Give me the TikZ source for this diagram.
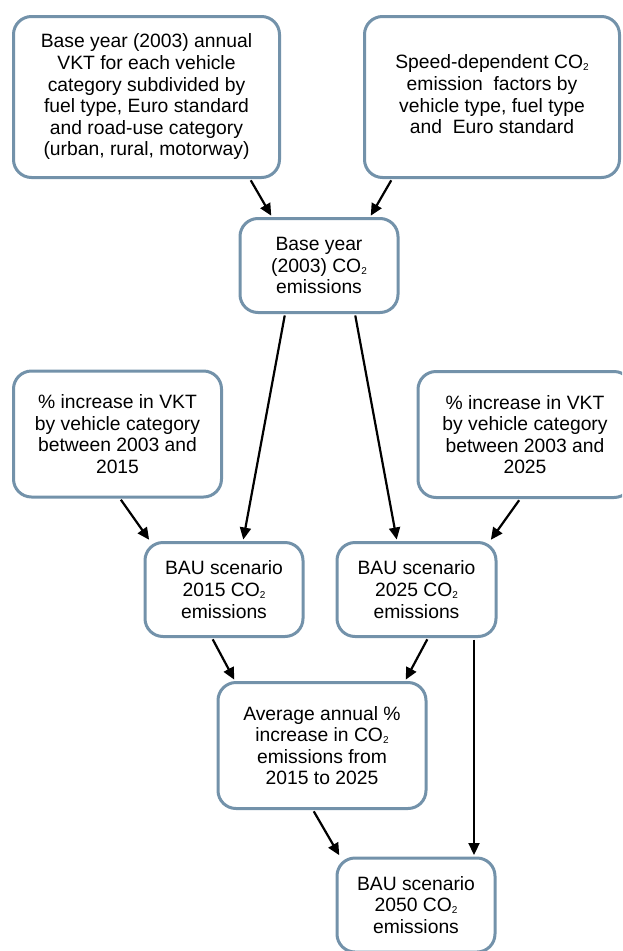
\documentclass[tikz,border=0pt]{standalone}
\usepackage{fontspec}
\setmainfont{Liberation Sans}
\usetikzlibrary{arrows.meta}
\definecolor{bord}{RGB}{115,146,170}
\newcommand{\cotwo}{CO\raisebox{-2pt}{\fontsize{10}{10}\selectfont 2}}
\begin{document}
\begin{tikzpicture}[x=1pt,y=-1pt,
 box/.style={draw=bord, line width=3pt, rounded corners=18pt, fill=white, align=center, inner sep=0pt, font=\fontsize{19.3}{21.6}\selectfont},
 arr/.style={line width=2.2pt, shorten <=1.5pt, shorten >=1.5pt, -{Triangle[length=12pt,width=11pt]}}]
\useasboundingbox (0,0) rectangle (622,951);
\clip (0,0) rectangle (622,951);
\node[box, minimum width=266pt, minimum height=161pt] (tl) at (146.5,97)
 {Base year (2003) annual\\VKT for each vehicle\\category subdivided by\\fuel type, Euro standard\\and road-use category\\(urban, rural, motorway)};
\node[box, minimum width=255pt, minimum height=161pt] (tr) at (492,97)
 {\raisebox{3.5pt}{\begin{tabular}{@{}c@{}}Speed-dependent \cotwo\\emission\ \ factors by\\vehicle type, fuel type\\and\ \ Euro standard\end{tabular}}};
\node[box, minimum width=158pt, minimum height=94pt] (base) at (319,265.5)
 {Base year\\(2003) \cotwo\\emissions};
\node[box, minimum width=208pt, minimum height=126pt] (lm) at (117.5,434)
 {\% increase in VKT\\by vehicle category\\between 2003 and\\2015};
\node[box, minimum width=214pt, minimum height=126pt] (rm) at (525,434.5)
 {\% increase in VKT\\by vehicle category\\between 2003 and\\2025};
\node[box, minimum width=158pt, minimum height=94pt] (b15) at (224,589.5)
 {BAU scenario\\2015 \cotwo\\emissions};
\node[box, minimum width=159pt, minimum height=94pt] (b25) at (416.5,589.5)
 {BAU scenario\\2025 \cotwo\\emissions};
\node[box, minimum width=208pt, minimum height=126pt] (avg) at (322,745.5)
 {Average annual \%\\increase in \cotwo\\emissions from\\2015 to 2025};
\node[box, minimum width=158pt, minimum height=94pt] (b50) at (416,905)
 {BAU scenario\\2050 \cotwo\\emissions};
\draw[arr] ([xshift=103.5pt]tl.south) -- ([xshift=-47pt]base.north);
\draw[arr] ([xshift=-100pt]tr.south) -- ([xshift=51pt]base.north);
\draw[arr] ([xshift=-34pt]base.south) -- ([xshift=19pt]b15.north);
\draw[arr] ([xshift=36pt]base.south) -- ([xshift=-19.5pt]b25.north);
\draw[arr] ([xshift=2.5pt]lm.south) -- ([xshift=-74pt]b15.north);
\draw[arr] ([xshift=-5pt]rm.south) -- ([xshift=73.5pt]b25.north);
\draw[arr] ([xshift=-12pt]b15.south) -- ([xshift=-87pt]avg.north);
\draw[arr] ([xshift=11.5pt]b25.south) -- ([xshift=83pt]avg.north);
\draw[arr] ([xshift=57.5pt]b25.south) -- ([xshift=58pt]b50.north);
\draw[arr] ([xshift=-9pt]avg.south) -- ([xshift=-76pt]b50.north);
\end{tikzpicture}
\end{document}
